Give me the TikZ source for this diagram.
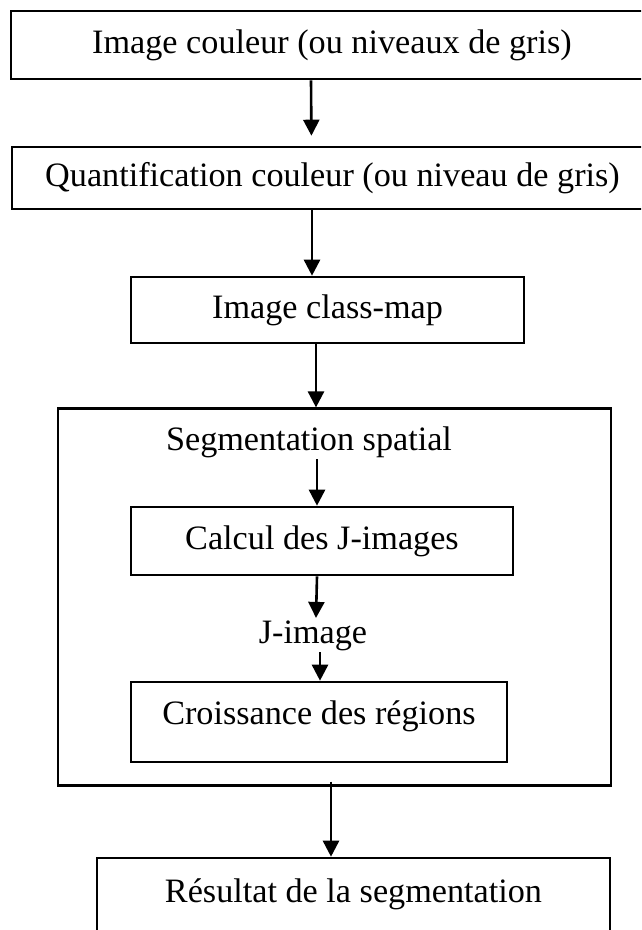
\documentclass[tikz,border=0pt]{standalone}
\usepackage{fontspec}
\setmainfont{Liberation Serif}
\usetikzlibrary{arrows.meta,scopes}
\tikzset{
    boite/.style={draw, line width=2.6pt, inner sep=0pt, text height=24pt, text depth=8pt},
    texte/.style={inner sep=0pt, text height=24pt, text depth=8pt},
    fleche/.style={line width=2.6pt, -{Triangle[length=16pt, width=16pt]}}
}

\begin{document}
\begin{tikzpicture}[x=1pt, y=-1pt, font=\fontsize{34.2}{41}\selectfont]
    \useasboundingbox (0,0) rectangle (641,930);
    \clip (0,0) rectangle (641,930);
    %entree
    \node[boite, minimum width=642pt, minimum height=68pt] (img) at (332,45) {Image couleur (ou niveaux de gris)};
    \node[boite, minimum width=641pt, minimum height=62pt] (quant) at (332.5,178) {Quantification couleur (ou niveau de gris)};
    \node[boite, minimum width=393pt, minimum height=66pt] (classmap) at (327.5,310) {Image class-map};
    %segmentation spatial
    { [line width=2.2pt]
    \node[draw, minimum width=553pt, minimum height=377pt] (seg) at (334.5,597) {};
    \node[texte] (segtitre) at (309,442) {Segmentation spatial};
    \node[boite, minimum width=382pt, minimum height=68pt] (calcul) at (322,541) {Calcul des J-images};
    \node[texte] (jimg) at (313,635) {J-image};
    \node[boite, text depth=20pt, minimum width=376pt, minimum height=80pt] (crois) at (319,722) {Croissance des r\'egions};
    }
    %sortie
    \node[boite, text depth=16pt, minimum width=513pt, minimum height=80pt] (result) at (353.5,898) {R\'esultat de la segmentation};
    %fleches
    \draw[fleche, shorten >=10pt] ([xshift=-21pt]img.south) -- ([xshift=-21pt]quant.north);
    \draw[fleche] ([xshift=-20.5pt]quant.south) -- ([xshift=-15.5pt]classmap.north);
    \draw[fleche] ([xshift=-11.5pt]classmap.south) -- ([xshift=-18.5pt]seg.north);
    \draw[fleche] ([xshift=8pt]segtitre.south) -- ([xshift=-5pt]calcul.north);
    \draw[fleche] ([xshift=-5pt]calcul.south) -- ([xshift=3pt]jimg.north);
    \draw[fleche] ([xshift=7pt]jimg.south) -- ([xshift=1pt]crois.north);
    \draw[fleche] ([xshift=-3.5pt, yshift=5pt]seg.south) -- ([xshift=-22.5pt]result.north);
\end{tikzpicture}
\end{document}
